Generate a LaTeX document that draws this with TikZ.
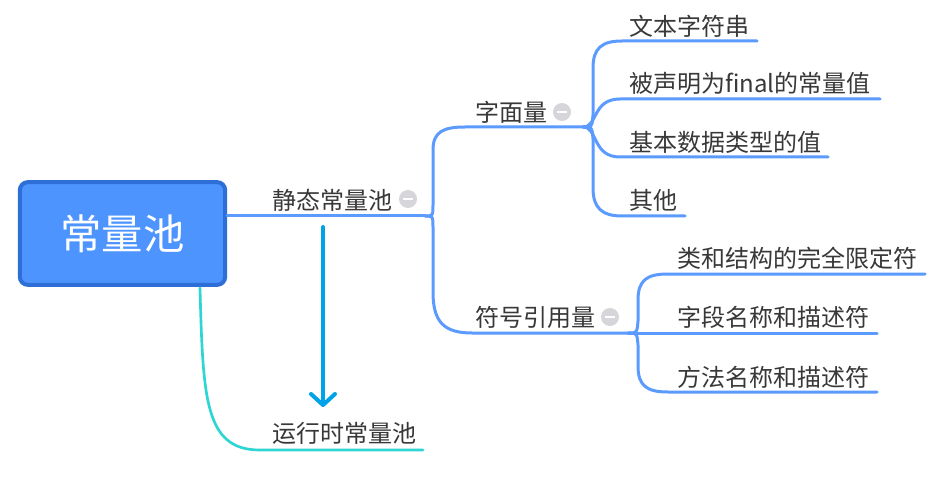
\documentclass[tikz,border=0pt]{standalone}
\usepackage{fontspec}
\setmainfont{Noto Sans CJK SC}
\begin{document}
\begin{tikzpicture}[x=0.75pt,y=-0.75pt,
  topic/.style={anchor=west,inner sep=0pt,text=black!78,font=\fontsize{18pt}{20pt}\selectfont},
  rootbox/.style={draw=rootedge,fill=rootfill,line width=3pt,rounded corners=6pt,minimum width=154pt,minimum height=77pt,inner sep=0pt,text=white,font=\fontsize{31pt}{34pt}\selectfont},
  branch/.style={draw=branchblue,line width=2.25pt,line cap=round},
  tealline/.style={draw=tealc,line width=2pt,line cap=round},
  arrowline/.style={draw=arrowc,line width=3pt,line cap=round,line join=round},
  fold/.style={circle,fill=foldgray,inner sep=0pt,minimum size=13.5pt,path picture={\fill[white] ([xshift=-3.5pt,yshift=-1.1pt]path picture bounding box.center) rectangle ([xshift=3.5pt,yshift=1.1pt]path picture bounding box.center);}}]
\definecolor{rootfill}{HTML}{4D94FF}
\definecolor{rootedge}{HTML}{2D6FD6}
\definecolor{branchblue}{HTML}{5B9BFF}
\definecolor{tealc}{HTML}{2ED6D3}
\definecolor{arrowc}{HTML}{00A3E8}
\definecolor{foldgray}{HTML}{D6D6DA}
\useasboundingbox[fill=white] (0,0) rectangle (938,502);

% nodes
\node[rootbox] (root) at (122.5,233.5) {常量池};
\node[topic] (stat) at (272,200) {静态常量池};
\node[topic] (lit) at (475,112) {字面量};
\node[topic] (sym) at (475,317) {符号引用量};
\node[topic] (l1) at (629,26) {文本字符串};
\node[topic] (l2) at (629,83) {被声明为final的常量值};
\node[topic] (l3) at (629,142) {基本数据类型的值};
\node[topic] (l4) at (629,200) {其他};
\node[topic] (s1) at (677,258) {类和结构的完全限定符};
\node[topic] (s2) at (677,317) {字段名称和描述符};
\node[topic] (s3) at (677,377) {方法名称和描述符};
\node[topic] (run) at (272,433) {运行时常量池};

\node[fold] (fstat) at (408,199) {};
\node[fold] (flit) at (562,112) {};
\node[fold] (fsym) at (610,317) {};

% branch points
\coordinate (b1) at (425,216);
\coordinate (b2) at (583,127);
\coordinate (b3) at (628,333);
\coordinate (e1) at (757,41);
\coordinate (e2) at (880,99);
\coordinate (e3) at (828,157);
\coordinate (e4) at (685,216);
\coordinate (f1) at (925,274);
\coordinate (f2) at (877,333);
\coordinate (f3) at (877,392);
\coordinate (rb) at (200,288);
\coordinate (re) at (423,450);

% root -> static
\draw[branch] (root.east |- b1) -- (b1);
% static -> literal
\draw[branch] (b1) .. controls (433,216) .. (433,204) -- (433,150) .. controls (433,132) and (443,127) .. (465,127) -- (b2);
% static -> symbolic
\draw[branch] (b1) .. controls (433,216) .. (433,228) -- (433,292) .. controls (433,322) and (444,333) .. (472,333) -- (b3);
% literal leaves
\draw[branch] (b2) .. controls (592,127) .. (593,115) -- (593,68) .. controls (593,48) and (602,41) .. (622,41) -- (e1);
\draw[branch] (b2) .. controls (598,127) and (592,99) .. (620,99) -- (e2);
\draw[branch] (b2) .. controls (598,127) and (592,157) .. (620,157) -- (e3);
\draw[branch] (b2) .. controls (592,127) .. (593,139) -- (593,188) .. controls (593,208) and (602,216) .. (622,216) -- (e4);
% symbolic leaves
\draw[branch] (b3) .. controls (637,333) .. (638,321) -- (638,300) .. controls (638,280) and (647,274) .. (668,274) -- (f1);
\draw[branch] (b3) -- (f2);
\draw[branch] (b3) .. controls (637,333) .. (638,345) -- (638,366) .. controls (638,386) and (647,392) .. (668,392) -- (f3);
% root -> runtime
\draw[tealline] (rb) .. controls (203,400) and (205,450) .. (260,450) -- (re);
% arrow
\coordinate (as) at (323,227);
\coordinate (ae) at (323,405);
\draw[arrowline] (as) -- (ae);
\draw[arrowline] ([xshift=-9pt,yshift=8.25pt]ae) -- (ae) -- ([xshift=9pt,yshift=8.25pt]ae);
\end{tikzpicture}
\end{document}
